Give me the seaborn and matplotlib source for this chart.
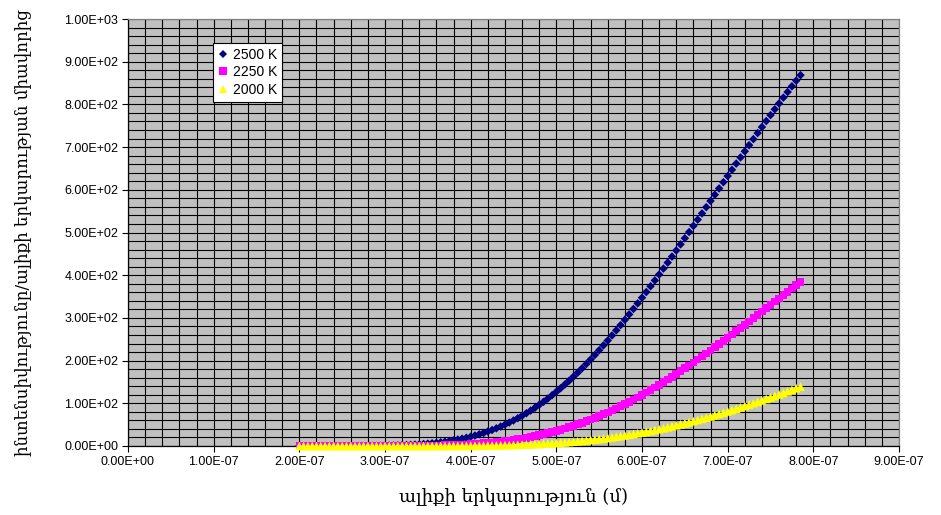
import numpy as np
import pandas as pd
import matplotlib
matplotlib.use("Agg")
import matplotlib.pyplot as plt
import seaborn as sns
from matplotlib.ticker import MultipleLocator, FuncFormatter

# ալիքի երկարություն, նմ (200 ... 785, 5 նմ քայլով)
wavelength_nm = np.arange(200, 790, 5)

series_names = ["2500 K", "2250 K", "2000 K"]

intensity_2500 = [
    0.0, 0.0, 0.0, 0.0, 0.0, 0.01, 0.01, 0.01, 0.02, 0.03,
    0.04, 0.06, 0.08, 0.11, 0.15, 0.21, 0.27, 0.36, 0.46, 0.60,
    0.76, 0.96, 1.20, 1.48, 1.82, 2.22, 2.70, 3.24, 3.88, 4.61,
    5.44, 6.39, 7.46, 8.67, 10.0, 11.5, 13.2, 15.1, 17.1, 19.3,
    21.8, 24.5, 27.4, 30.5, 33.9, 37.5, 41.4, 45.6, 50.0, 54.8,
    59.8, 65.1, 70.8, 76.7, 82.9, 89.5, 96.3, 103.5, 111.0, 118.8,
    126.9, 135.3, 144.0, 153.0, 162.4, 172.0, 181.9, 192.1, 202.6, 213.3,
    224.3, 235.6, 247.1, 258.9, 270.9, 283.1, 295.5, 308.2, 321.0, 334.0,
    347.2, 360.6, 374.1, 387.8, 401.6, 415.5, 429.5, 443.6, 457.9, 472.2,
    486.6, 501.1, 515.5, 530.1, 544.7, 559.3, 573.9, 588.5, 603.2, 617.8,
    632.3, 646.9, 661.4, 675.8, 690.2, 704.5, 718.7, 732.9, 747.0, 761.0,
    774.9, 788.6, 802.2, 815.8, 829.1, 842.4, 855.6, 868.5,
]

intensity_2250 = [
    0.0, 0.0, 0.0, 0.0, 0.0, 0.0, 0.0, 0.0, 0.0, 0.0,
    0.0, 0.0, 0.01, 0.01, 0.01, 0.02, 0.03, 0.04, 0.05, 0.07,
    0.09, 0.12, 0.15, 0.19, 0.25, 0.31, 0.39, 0.48, 0.59, 0.72,
    0.88, 1.05, 1.26, 1.50, 1.78, 2.10, 2.45, 2.86, 3.32, 3.83,
    4.40, 5.04, 5.75, 6.53, 7.39, 8.33, 9.36, 10.5, 11.7, 13.0,
    14.4, 16.0, 17.6, 19.4, 21.3, 23.3, 25.4, 27.7, 30.1, 32.6,
    35.3, 38.1, 41.1, 44.2, 47.5, 50.9, 54.4, 58.1, 62.0, 66.0,
    70.1, 74.4, 78.9, 83.5, 88.2, 93.1, 98.1, 103.3, 108.6, 114.0,
    119.6, 125.3, 131.1, 137.1, 143.2, 149.4, 155.7, 162.1, 168.6, 175.2,
    182.0, 188.8, 195.7, 202.7, 209.8, 216.9, 224.1, 231.4, 238.8, 246.2,
    253.6, 261.2, 268.7, 276.3, 284.0, 291.6, 299.3, 307.0, 314.8, 322.5,
    330.3, 338.1, 345.8, 353.6, 361.3, 369.1, 376.8, 384.5,
]

intensity_2000 = [
    0.0, 0.0, 0.0, 0.0, 0.0, 0.0, 0.0, 0.0, 0.0, 0.0,
    0.0, 0.0, 0.0, 0.0, 0.0, 0.0, 0.0, 0.0, 0.0, 0.0,
    0.01, 0.01, 0.01, 0.02, 0.02, 0.03, 0.03, 0.04, 0.06, 0.07,
    0.09, 0.11, 0.14, 0.17, 0.21, 0.25, 0.30, 0.36, 0.43, 0.51,
    0.60, 0.70, 0.82, 0.95, 1.10, 1.27, 1.46, 1.67, 1.90, 2.16,
    2.44, 2.76, 3.10, 3.48, 3.88, 4.33, 4.81, 5.33, 5.89, 6.49,
    7.14, 7.83, 8.57, 9.37, 10.2, 11.1, 12.0, 13.0, 14.1, 15.2,
    16.4, 17.6, 18.9, 20.3, 21.7, 23.2, 24.7, 26.3, 28.0, 29.8,
    31.6, 33.4, 35.4, 37.4, 39.4, 41.6, 43.8, 46.0, 48.4, 50.8,
    53.2, 55.7, 58.3, 60.9, 63.6, 66.4, 69.2, 72.1, 75.0, 78.0,
    81.0, 84.1, 87.2, 90.4, 93.6, 96.9, 100.1, 103.5, 106.9, 110.3,
    113.8, 117.3, 120.8, 124.4, 128.0, 131.6, 135.3, 138.9,
]

x_label = "ալիքի երկարություն (մ)"
y_label = "ինտենսիվությունը/ալիքի երկարության միավորից"

frames = []
for name, vals in zip(series_names, [intensity_2500, intensity_2250, intensity_2000]):
    frames.append(pd.DataFrame({
        "wavelength": wavelength_nm * 1e-9,
        "intensity": vals,
        "series": name,
    }))
df = pd.concat(frames, ignore_index=True)

plt.rcParams["font.family"] = ["Liberation Sans", "DejaVu Sans"]

fig = plt.figure(figsize=(9.41, 5.15), dpi=100)
ax = fig.add_axes([128 / 941, 69 / 515, 771 / 941, 427 / 515])
ax.set_facecolor("#C0C0C0")

sns.scatterplot(
    data=df, x="wavelength", y="intensity",
    hue="series", style="series", size="series",
    palette={"2500 K": "#000080", "2250 K": "#FF00FF", "2000 K": "#FFFF00"},
    markers={"2500 K": "D", "2250 K": "s", "2000 K": "^"},
    sizes={"2500 K": 19, "2250 K": 30, "2000 K": 40},
    linewidth=0, alpha=1, clip_on=False, zorder=3, ax=ax,
)

ax.set_xlim(0, 9e-7)
ax.set_ylim(0, 1000)
ax.xaxis.set_major_locator(MultipleLocator(1e-7))
ax.xaxis.set_minor_locator(MultipleLocator(2e-8))
ax.yaxis.set_major_locator(MultipleLocator(100))
ax.yaxis.set_minor_locator(MultipleLocator(20))
sci = FuncFormatter(lambda v, p: f"{v:.2E}")
ax.xaxis.set_major_formatter(sci)
ax.yaxis.set_major_formatter(sci)

ax.grid(True, which="both", color="black", linewidth=0.8)
ax.set_axisbelow(True)
ax.tick_params(which="major", direction="out", length=4, width=0.8,
               labelsize=9, color="black", pad=3)
ax.tick_params(which="minor", length=0)

for side in ["top", "right"]:
    ax.spines[side].set_color("#808080")
for side in ["left", "bottom"]:
    ax.spines[side].set_color("black")
for sp in ax.spines.values():
    sp.set_linewidth(0.9)

arm_font = ["DejaVu Serif", "DejaVu Sans"]
ax.set_xlabel(x_label, family=arm_font, fontsize=13, labelpad=14)
ax.set_ylabel(y_label, family=arm_font, fontsize=12, labelpad=24)

sns.move_legend(
    ax, loc="upper left", bbox_to_anchor=(0.110, 0.944),
    title=None, frameon=True, fancybox=False, fontsize=10,
    borderaxespad=0, borderpad=0.35, labelspacing=0.25,
    handlelength=0.8, handletextpad=0.3, framealpha=1,
)
leg = ax.get_legend()
leg.get_frame().set_edgecolor("black")
leg.get_frame().set_linewidth(0.8)
leg.set_zorder(5)

fig.savefig("out.png", dpi=100)
